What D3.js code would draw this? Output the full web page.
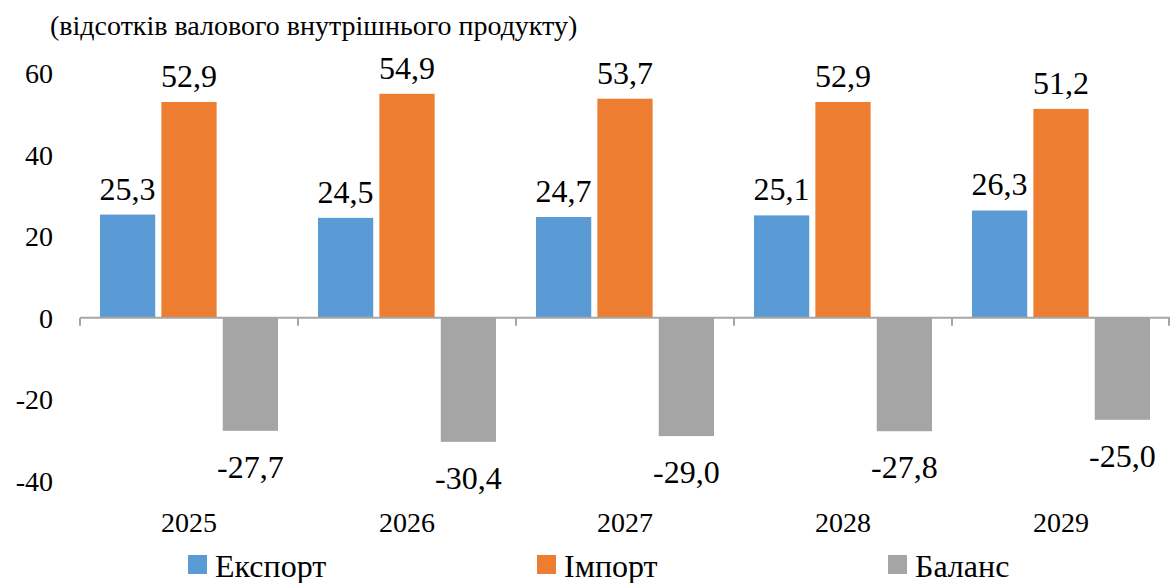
<!DOCTYPE html>
<html>
<head>
<meta charset="utf-8">
<script src="https://cdn.jsdelivr.net/npm/d3@7"></script>
<style>
  body { margin: 0; background: #fff; }
  #chart { position: relative; width: 1170px; height: 583px; }
  #chart svg { position: absolute; left: 0; top: 0; }
  #chart text, #chart .lbl { font-family: 'Liberation Serif' !important; }
</style>
</head>
<body>
<div id="chart"></div>
<script>
const years = ["2025", "2026", "2027", "2028", "2029"];
const seriesNames = ["Експорт", "Імпорт", "Баланс"];
const exportVals = [25.3, 24.5, 24.7, 25.1, 26.3];
const importVals = [52.9, 54.9, 53.7, 52.9, 51.2];
const balanceVals = [-27.7, -30.4, -29.0, -27.8, -25.0];
const yTicks = [-40, -20, 0, 20, 40, 60];
const colors = ["#5B9BD5", "#ED7D31", "#A5A5A5"];

const FONT = "Liberation Serif";

let config = {
    div: '#chart',
    width: 1170,
    height: 583,
    left: 80,
    right: 1170,
    top: 73,
    bottom: 481
};

let svg = d3.select(config.div)
    .append("svg")
    .attr("width", config.width)
    .attr("height", config.height);

// every text node gets the serif face forced inline
function txt(sel, size) {
    return sel.attr("font-size", size)
        .style("font-family", FONT, "important")
        .attr("fill", "#000");
}

let allSeries = [exportVals, importVals, balanceVals];
let data = [];
for (let i = 0; i < years.length; i++) {
    for (let s = 0; s < seriesNames.length; s++) {
        data.push({ year: years[i], series: seriesNames[s], value: allSeries[s][i] });
    }
}

let x0 = d3.scaleBand().domain(years).range([config.left, config.right]);
let x1 = d3.scaleBand().domain(seriesNames).range([20, x0.bandwidth() - 20]).paddingInner(0.1);
let y = d3.scaleLinear().domain([-40, 60]).range([config.bottom, config.top]);
let color = d3.scaleOrdinal().domain(seriesNames).range(colors);
let fmt = v => d3.format(".1f")(v).replace(".", ",").replace("\u2212", "-");

// title
txt(svg.append("text").attr("x", 50).attr("y", 35), 28)
    .text("(відсотків валового внутрішнього продукту)");

// y tick labels
txt(svg.append("g")
    .selectAll("text")
    .data(yTicks)
    .join("text")
    .attr("x", 53)
    .attr("y", d => y(d) + 10)
    .attr("text-anchor", "end"), 28)
    .text(d => d);

// bars
svg.append("g")
    .selectAll("rect")
    .data(data)
    .join("rect")
    .attr("x", d => x0(d.year) + x1(d.series))
    .attr("width", x1.bandwidth())
    .attr("y", d => y(Math.max(0, d.value)))
    .attr("height", d => Math.abs(y(d.value) - y(0)))
    .attr("fill", d => color(d.series));

// x axis line + ticks
let xAxis = svg.append("g").attr("stroke", "#A6A6A6").attr("stroke-width", 2);
xAxis.append("line")
    .attr("x1", config.left).attr("x2", config.right)
    .attr("y1", y(0)).attr("y2", y(0));
xAxis.selectAll("line.tick")
    .data(years.map(d => x0(d)).concat([config.right - 1]))
    .join("line")
    .attr("class", "tick")
    .attr("x1", d => d).attr("x2", d => d)
    .attr("y1", y(0)).attr("y2", y(0) + 8);

// value labels
txt(svg.append("g")
    .selectAll("text")
    .data(data)
    .join("text")
    .attr("x", d => x0(d.year) + x1(d.series) + x1.bandwidth() / 2)
    .attr("y", d => d.value >= 0 ? y(d.value) - 15 : y(d.value) + 47)
    .attr("text-anchor", "middle"), 32)
    .text(d => fmt(d.value));

// year labels
txt(svg.append("g")
    .selectAll("text")
    .data(years)
    .join("text")
    .attr("x", d => x0(d) + x0.bandwidth() / 2)
    .attr("y", 532)
    .attr("text-anchor", "middle"), 28)
    .text(d => d);

// legend
let legendX = [188, 537, 888];
let legend = svg.append("g")
    .selectAll("g")
    .data(seriesNames)
    .join("g")
    .attr("transform", (d, i) => `translate(${legendX[i]},0)`);
legend.append("rect")
    .attr("x", 0).attr("y", 555)
    .attr("width", 19).attr("height", 19)
    .attr("fill", d => color(d));
txt(legend.append("text")
    .attr("x", 27).attr("y", 577), 32)
    .text(d => d);
</script>
</body>
</html>
